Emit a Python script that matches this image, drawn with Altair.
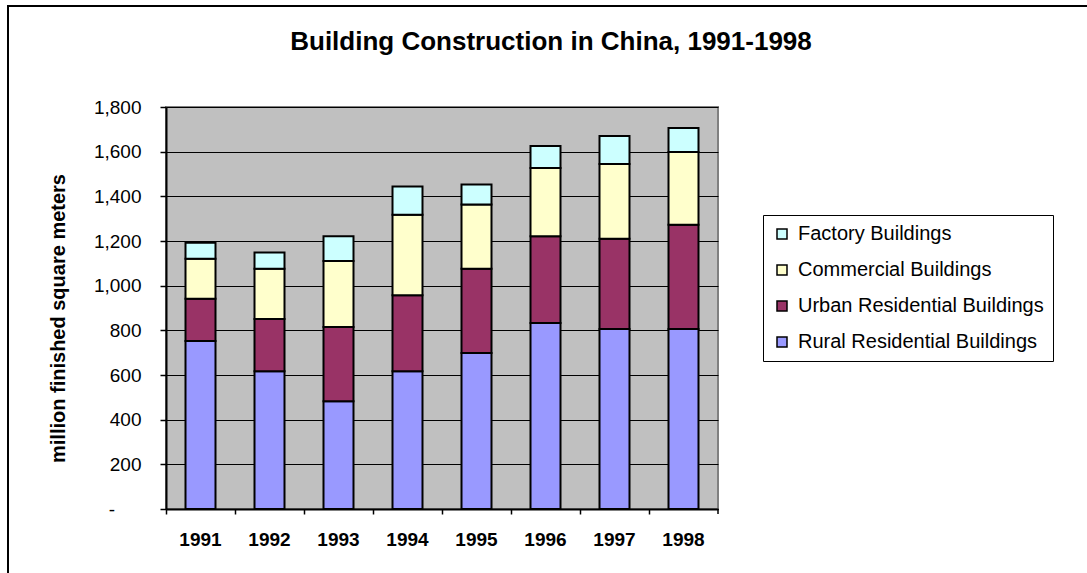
import altair as alt
import pandas as pd

years = ["1991", "1992", "1993", "1994", "1995", "1996", "1997", "1998"]
rural = [752, 617, 482, 617, 698, 833, 806, 806]
urban = [189, 234, 333, 340, 378, 388, 404, 467]
commercial = [180, 225, 295, 361, 287, 306, 335, 326]
factory = [71, 72, 111, 126, 90, 98, 125, 107]

series_names = ["Factory Buildings", "Commercial Buildings",
                "Urban Residential Buildings", "Rural Residential Buildings"]
series_colors = ["#CCFFFF", "#FFFFCC", "#993366", "#9999FF"]
stack_rank = {"Rural Residential Buildings": 0, "Urban Residential Buildings": 1,
              "Commercial Buildings": 2, "Factory Buildings": 3}
y_ticks = [0, 200, 400, 600, 800, 1000, 1200, 1400, 1600, 1800]
title_text = "Building Construction in China, 1991-1998"

rows = []
for name, vals in [("Rural Residential Buildings", rural),
                   ("Urban Residential Buildings", urban),
                   ("Commercial Buildings", commercial),
                   ("Factory Buildings", factory)]:
    for yr, v in zip(years, vals):
        rows.append({"year": yr, "series": name, "value": v, "rank": stack_rank[name]})
df = pd.DataFrame(rows)

FONT = "Liberation Sans"
W, H = 552, 402
LEFT, TOP = 166, 107

zero_label = "-" + "\u00a0" * 5 + "\u200b"

bars = alt.Chart(df).mark_bar(size=30, stroke="black", strokeWidth=2).encode(
    x=alt.X("year:N", sort=years,
            scale=alt.Scale(paddingInner=0, paddingOuter=0),
            axis=alt.Axis(title=None, labelAngle=0, labelFont=FONT, labelFontSize=19,
                          labelFontWeight="bold", labelColor="black",
                          bandPosition=0, tickSize=5, tickColor="black", tickWidth=1.5,
                          domainColor="black", domainWidth=2, labelPadding=16)),
    y=alt.Y("value:Q", stack="zero",
            scale=alt.Scale(domain=[0, 1800], nice=False),
            axis=alt.Axis(values=y_ticks, title="million finished square meters",
                          labelExpr="datum.value == 0 ? '" + zero_label + "' : format(datum.value, ',')",
                          labelFont=FONT, labelFontSize=19, labelColor="black",
                          labelPadding=19, tickSize=6, tickColor="black", tickWidth=1.5,
                          domainColor="black", domainWidth=2,
                          grid=True, gridColor="black", gridWidth=1,
                          titleFont=FONT, titleFontSize=20, titleFontWeight="bold",
                          titleColor="black", titleAngle=-90, titleX=-108, titleY=211,
                          titleAlign="center", titleBaseline="middle")),
    color=alt.Color("series:N",
                    scale=alt.Scale(domain=series_names, range=series_colors),
                    legend=alt.Legend(title=None, orient="none", legendX=597, legendY=108,
                                      symbolType="square", symbolSize=100,
                                      symbolStrokeColor="black", symbolStrokeWidth=1.5,
                                      labelFont=FONT, labelFontSize=20, labelColor="black",
                                      labelLimit=0, labelOffset=6, rowPadding=16, padding=9,
                                      strokeColor="black", fillColor="white")),
    order=alt.Order("rank:Q", sort="ascending"),
)

one = pd.DataFrame({"k": [0]})

end_tick = alt.Chart(one).mark_rule(color="black", strokeWidth=1.5).encode(
    x=alt.value(W), y=alt.value(H), y2=alt.value(H + 5))

frame_left = alt.Chart(one).mark_rule(color="black", strokeWidth=2).encode(
    x=alt.value(8 - LEFT), y=alt.value(5 - TOP), y2=alt.value(573 - TOP))
frame_top = alt.Chart(one).mark_rule(color="black", strokeWidth=2).encode(
    y=alt.value(6 - TOP), x=alt.value(7 - LEFT), x2=alt.value(1087 - LEFT))

title = alt.Chart(one).mark_text(font=FONT, fontSize=26, fontWeight="bold", color="black",
                                 align="center", baseline="alphabetic").encode(
    x=alt.value(551 - LEFT), y=alt.value(50 - TOP), text=alt.value(title_text))

chart = alt.layer(bars, end_tick, frame_left, frame_top, title).properties(
    width=W, height=H,
    autosize=alt.AutoSizeParams(type="none"),
    padding={"left": LEFT, "top": TOP, "right": 1087 - LEFT - W, "bottom": 573 - TOP - H},
    background="white",
).configure_view(fill="#C0C0C0", stroke="#808080", strokeWidth=2)

chart.save("out.html", embed_options={"renderer": "svg", "actions": False})
